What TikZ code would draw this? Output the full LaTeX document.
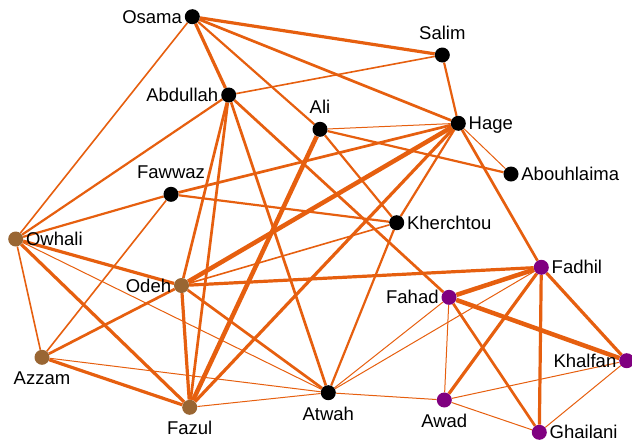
\documentclass[tikz,border=0pt]{standalone}
\usepackage{fontspec}
\setmainfont{Liberation Sans}
\usetikzlibrary{backgrounds}
\definecolor{tie}{RGB}{230,95,15}
\definecolor{coreK}{RGB}{0,0,0}
\definecolor{cellB}{RGB}{153,102,51}
\definecolor{cellP}{RGB}{128,0,128}
\tikzset{
  actor/.style={circle, inner sep=0pt, minimum size=15pt, fill=#1},
  lbl/.style={font=\fontsize{18.5}{20}\selectfont, inner sep=0pt, text height=13.2pt, text depth=0pt, text=black},
  lL/.style={label={[lbl, label distance=2.5pt]left:#1}},
  lR/.style={label={[lbl, label distance=2.5pt]right:#1}},
  lA/.style={label={[lbl, label distance=8pt]above:#1}},
  lB/.style={label={[lbl, label distance=6.5pt]below:#1}},
  tA/.style={draw=tie, line width=1pt},
  tB/.style={draw=tie, line width=1.6pt},
  tC/.style={draw=tie, line width=2.2pt},
  tD/.style={draw=tie, line width=2.7pt},
  tE/.style={draw=tie, line width=3.2pt},
  tF/.style={draw=tie, line width=4.5pt},
}
\begin{document}
\begin{tikzpicture}[x=1pt,y=-1pt]
\useasboundingbox (0,0) rectangle (632,440);

% actors
\node[actor=coreK, lL=Osama]      (osama)   at (192.3,16.7)  {};
\node[actor=coreK, lA=Salim]      (salim)   at (442.3,55)    {};
\node[actor=coreK, lL=Abdullah]   (abdul)   at (228.7,95)    {};
\node[actor=coreK, lA=Ali]        (ali)     at (320,129.3)   {};
\node[actor=coreK, lR=Hage]       (hage)    at (458.3,123.3) {};
\node[actor=coreK, lR=Abouhlaima] (abouh)   at (511,174)     {};
\node[actor=coreK, lA=Fawwaz]     (fawwaz)  at (171,194.3)   {};
\node[actor=coreK, lR=Kherchtou]  (kher)    at (396.7,222.7) {};
\node[actor=cellB, lR=Owhali]     (owhali)  at (15.7,239)    {};
\node[actor=cellB, lL=Odeh]       (odeh)    at (181.5,285.5) {};
\node[actor=cellP, lR=Fadhil]     (fadhil)  at (541.3,267.3) {};
\node[actor=cellP, lL=Fahad]      (fahad)   at (449,297.3)   {};
\node[actor=cellB, lB=Azzam]      (azzam)   at (42,357.3)    {};
\node[actor=cellP, lL=Khalfan]    (khalfan) at (626.7,360.7) {};
\node[actor=cellB, lB=Fazul]      (fazul)   at (189.7,407.3) {};
\node[actor=coreK, lB=Atwah]      (atwah)   at (328.3,392.7) {};
\node[actor=cellP, lB=Awad]       (awad)    at (444.3,400)   {};
\node[actor=cellP, lR=Ghailani]   (ghail)   at (539.3,432.3) {};

% ties
\begin{pgfonlayer}{background}
\draw[tE] (osama) -- (salim);
\draw[tD] (osama) -- (hage);
\draw[tE] (osama) -- (abdul);
\draw[tC] (osama) -- (ali);
\draw[tB] (osama) -- (owhali);
\draw[tB] (abdul) -- (salim);
\draw[tC] (abdul) -- (owhali);
\draw[tD] (abdul) -- (odeh);
\draw[tD] (abdul) -- (fazul);
\draw[tD] (abdul) -- (atwah);
\draw[tD] (abdul) -- (fahad);
\draw[tC] (salim) -- (hage);
\draw[tA] (ali) -- (hage);
\draw[tC] (ali) -- (abouh);
\draw[tC] (ali) -- (kher);
\draw[tF] (ali) -- (fazul);
\draw[tA] (hage) -- (abouh);
\draw[tD] (hage) -- (fawwaz);
\draw[tF] (hage) -- (odeh);
\draw[tE] (hage) -- (fazul);
\draw[tC] (hage) -- (kher);
\draw[tD] (hage) -- (fadhil);
\draw[tC] (fawwaz) -- (kher);
\draw[tC] (fawwaz) -- (owhali);
\draw[tB] (fawwaz) -- (azzam);
\draw[tB] (kher) -- (odeh);
\draw[tC] (kher) -- (atwah);
\draw[tE] (owhali) -- (odeh);
\draw[tB] (owhali) -- (azzam);
\draw[tE] (owhali) -- (fazul);
\draw[tA] (owhali) -- (atwah);
\draw[tE] (odeh) -- (fadhil);
\draw[tD] (odeh) -- (azzam);
\draw[tE] (odeh) -- (fazul);
\draw[tD] (odeh) -- (atwah);
\draw[tE] (azzam) -- (fazul);
\draw[tA] (azzam) -- (atwah);
\draw[tA] (fazul) -- (atwah);
\draw[tA] (atwah) -- (fahad);
\draw[tA] (atwah) -- (fadhil);
\draw[tA] (atwah) -- (awad);
\draw[tF] (fadhil) -- (fahad);
\draw[tE] (fadhil) -- (awad);
\draw[tE] (fadhil) -- (ghail);
\draw[tE] (fadhil) -- (khalfan);
\draw[tF] (fahad) -- (khalfan);
\draw[tD] (fahad) -- (ghail);
\draw[tA] (fahad) -- (awad);
\draw[tA] (khalfan) -- (awad);
\draw[tA] (khalfan) -- (ghail);
\draw[tA] (awad) -- (ghail);
\end{pgfonlayer}
\end{tikzpicture}
\end{document}
